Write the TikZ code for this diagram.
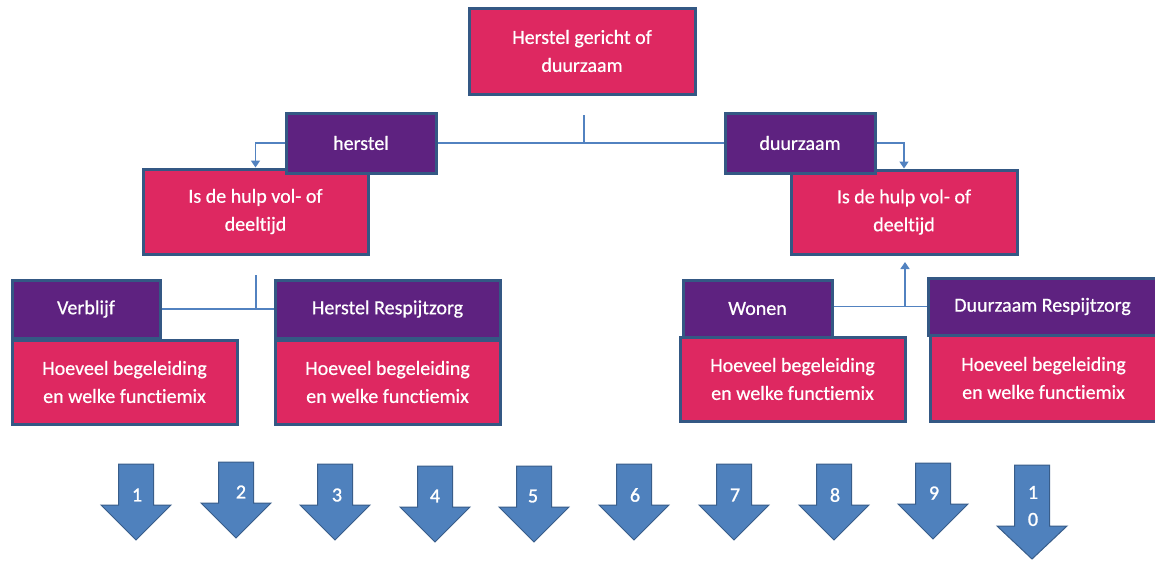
\documentclass[tikz,border=0pt]{standalone}
\usepackage{fontspec}
\setmainfont{Carlito}[Ligatures=NoCommon, FakeBold=0.6]
\newfontfamily\numfont{Carlito}[Ligatures=NoCommon, FakeBold=1.2]
\usetikzlibrary{arrows.meta}
\definecolor{pinkfill}{RGB}{222,40,97}
\definecolor{purplefill}{RGB}{94,34,128}
\definecolor{boxborder}{RGB}{52,88,132}
\definecolor{conncol}{RGB}{82,130,192}
\definecolor{arrowfill}{RGB}{79,129,189}
\definecolor{arrowborder}{RGB}{56,93,138}
\tikzset{
  basebox/.style={draw=boxborder, line width=3pt, text=white, align=center,
    font=\fontsize{20}{28}\selectfont, inner sep=0pt},
  pinkbox/.style={basebox, fill=pinkfill},
  purplebox/.style={basebox, fill=purplefill},
  conn/.style={draw=conncol, line width=1.6pt},
  connarrow/.style={conn, -{Triangle[width=9pt,length=7pt]}},
  blockarrow/.style={fill=arrowfill, draw=arrowborder, line width=1pt},
  numlabel/.style={text=white, font=\numfont\fontsize{20}{24}\selectfont, inner sep=0pt, align=center}
}
\begin{document}
\begin{tikzpicture}[x=1pt,y=-1pt]
\useasboundingbox (0,0) rectangle (1155,560);
\fill[white] (0,0) rectangle (1155,560);

% pink boxes
\node[pinkbox, minimum width=226pt, minimum height=86pt] (top) at (582,51) {Herstel gericht of\\duurzaam};
\node[pinkbox, minimum width=225pt, minimum height=85pt] (isL) at (255.5,211.5) {Is de hulp vol- of\\deeltijd};
\node[pinkbox, minimum width=226pt, minimum height=84pt] (isR) at (904,212) {Is de hulp vol- of\\deeltijd};
\node[pinkbox, minimum width=225pt, minimum height=84pt] (hoeL1) at (124.5,382) {Hoeveel begeleiding\\en welke functiemix};
\node[pinkbox, minimum width=225pt, minimum height=84pt] (hoeL2) at (387.5,382) {Hoeveel begeleiding\\en welke functiemix};
\node[pinkbox, minimum width=225pt, minimum height=84pt] (hoeR1) at (792.5,379) {Hoeveel begeleiding\\en welke functiemix};
\node[pinkbox, minimum width=227pt, minimum height=86pt] (hoeR2) at (1043.5,378) {Hoeveel begeleiding\\en welke functiemix};

% purple boxes
\node[purplebox, minimum width=150pt, minimum height=60pt] (herstel) at (361,143) {herstel};
\node[purplebox, minimum width=150pt, minimum height=60pt] (duurzaam) at (800,143) {duurzaam};
\node[purplebox, minimum width=148pt, minimum height=58pt] (verblijf) at (86,309) {Verblijf};
\node[purplebox, minimum width=225pt, minimum height=58pt] (herstelR) at (387.5,309) {Herstel Respijtzorg};
\node[purplebox, minimum width=149pt, minimum height=57pt] (wonen) at (757.5,308.5) {Wonen};
\node[purplebox, minimum width=229pt, minimum height=57pt] (duurR) at (1042.5,306.5) {Duurzaam Respijtzorg};

% connectors
\coordinate (topstub) at (584,115);
\coordinate (topjoin) at (584,143);
\draw[conn] (herstel.east) -- (duurzaam.west);
\draw[conn] (topstub) -- (topjoin);
\draw[connarrow] (herstel.west) -| (isL.north);
\draw[connarrow] (duurzaam.east) -| (isR.north);

\coordinate (lstub) at (256,275);
\coordinate (ljoin) at (256,309);
\draw[conn] (verblijf.east) -- (herstelR.west);
\draw[conn] (lstub) -- (ljoin);

\coordinate (rjoin) at (905,306.5);
\coordinate (rtip) at (905,262);
\draw[conn] (wonen.east |- rjoin) -- (duurR.west |- rjoin);
\draw[connarrow] (rjoin) -- (rtip);

% block arrows
\foreach \c/\t/\n/\lx/\ly in {136/464/1/137/495, 236/462/2/241/492, 335/464/3/337/495, 435/466/4/435/496, 534/466/5/533/496, 634/464/6/635/495, 734/464/7/735/495, 834/464/8/835/495, 933/463/9/934/493}{
  \draw[blockarrow] (\c-17.5,\t) -- (\c+17.5,\t) -- (\c+17.5,\t+41) -- (\c+35,\t+41) -- (\c,\t+76) -- (\c-35,\t+41) -- (\c-17.5,\t+41) -- cycle;
  \node[numlabel] (n\n) at (\lx,\ly) {\n};
}
\draw[blockarrow] (1014.5,465) -- (1049.5,465) -- (1049.5,526) -- (1067,526) -- (1032,559) -- (997,526) -- (1014.5,526) -- cycle;
\node[numlabel] (n10) at (1033,506) {1\\[3pt]0};
\end{tikzpicture}
\end{document}
